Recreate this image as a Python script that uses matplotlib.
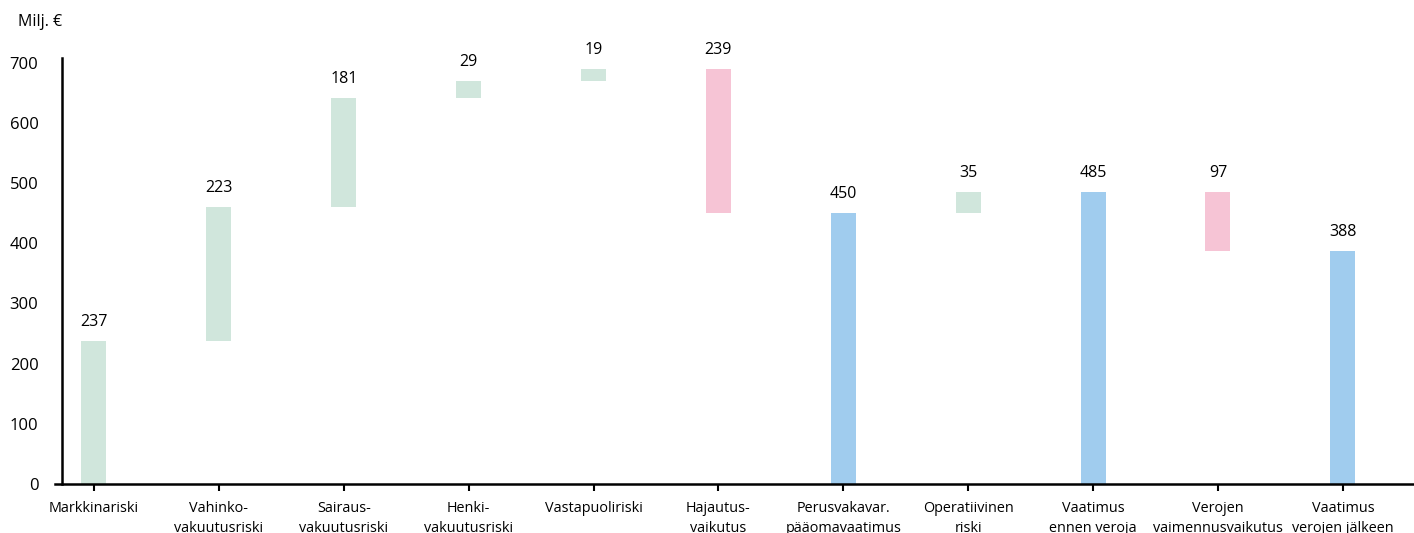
import matplotlib.pyplot as plt

plt.rcParams['font.family'] = ['Open Sans', 'DejaVu Sans']

categories = ['Markkinariski', 'Vahinko-\nvakuutusriski', 'Sairaus-\nvakuutusriski',
              'Henki-\nvakuutusriski', 'Vastapuoliriski', 'Hajautus-\nvaikutus',
              'Perusvakavar.\npääomavaatimus', 'Operatiivinen\nriski', 'Vaatimus\nennen veroja',
              'Verojen\nvaimennusvaikutus', 'Vaatimus\nverojen jälkeen']
values = [237, 223, 181, 29, 19, -239, 450, 35, 485, -97, 388]
is_total = [False, False, False, False, False, False, True, False, True, False, True]

GREEN = '#d0e6dc'
PINK = '#f6c4d5'
BLUE = '#a0ccee'

fig = plt.figure(figsize=(14.14, 5.33), dpi=100)
ax = fig.add_axes([62 / 1414, 1 - 484 / 533, 1 - 62 / 1414, (484 - 58) / 533])

running = 0
for i, (v, tot) in enumerate(zip(values, is_total)):
    if tot:
        bottom, height, color = 0, v, BLUE
        running = v
    elif v >= 0:
        bottom, height, color = running, v, GREEN
        running += v
    else:
        bottom, height, color = running + v, -v, PINK
        running += v
    ax.bar(i, height, bottom=bottom, width=0.2, color=color, linewidth=0)
    ax.text(i, bottom + height + 25, str(abs(v)), ha='center', va='baseline', fontsize=11.5)

ax.set_xlim(-0.256, 10.57)
ax.set_ylim(0, 708)
ax.set_yticks(range(0, 701, 100))
ax.set_xticks(range(len(categories)))
ax.set_xticklabels(categories, fontsize=10.4, linespacing=1.5)
ax.tick_params(axis='y', length=0, pad=17, labelsize=12)
ax.tick_params(axis='x', length=5, width=1.5, pad=7)
for s in ['top', 'right']:
    ax.spines[s].set_visible(False)
ax.spines['left'].set_linewidth(1.8)
ax.spines['bottom'].set_linewidth(1.8)
ax.spines['bottom'].set_bounds(-0.31, 10.57)

fig.text(18 / 1414, 1 - 22 / 533, 'Milj. €', fontsize=11.5, va='center', ha='left')

fig.savefig('out.png', dpi=100)
